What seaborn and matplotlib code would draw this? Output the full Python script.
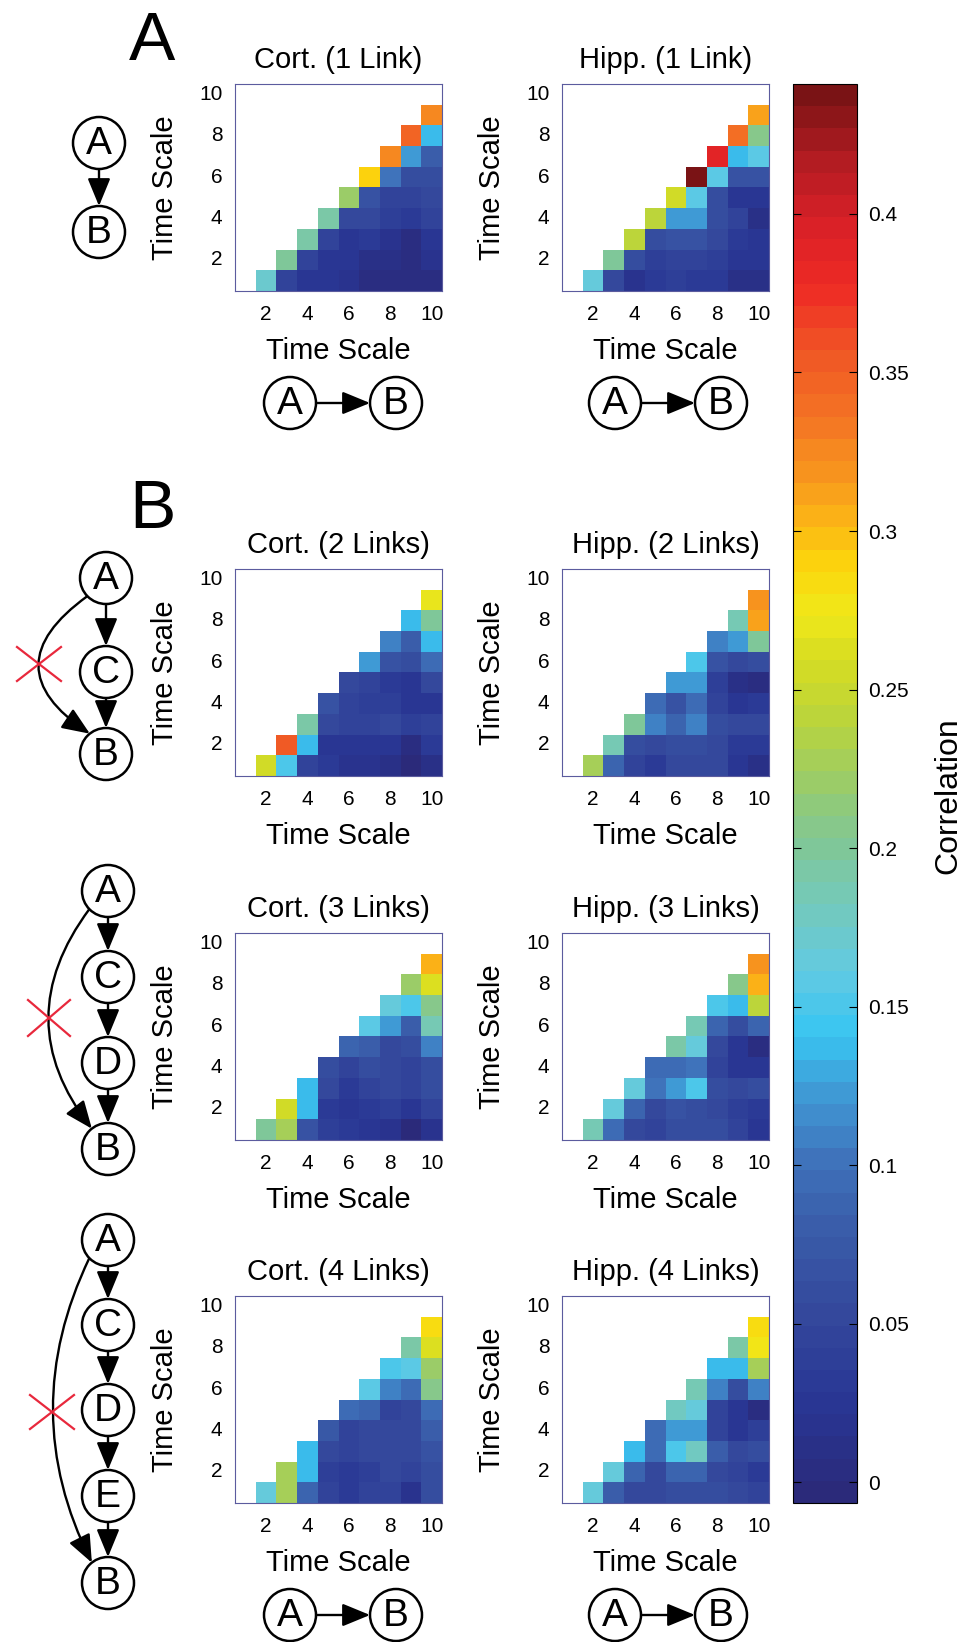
import numpy as np
import pandas as pd
import seaborn as sns
import matplotlib.pyplot as plt
from matplotlib.colors import LinearSegmentedColormap, ListedColormap
from matplotlib.patches import Circle, FancyArrowPatch

# ---------- data: row k holds time scale y = k+1, columns x = y+1 .. 10 ----------
cort_1 = [
    [0.17, 0.045, 0.025, 0.025, 0.015, 0.005, 0.005, 0.003, 0.004],
    [0.20, 0.045, 0.025, 0.025, 0.012, 0.012, 0.004, 0.018],
    [0.19, 0.045, 0.028, 0.030, 0.018, 0.003, 0.022],
    [0.19, 0.055, 0.050, 0.040, 0.032, 0.048],
    [0.22, 0.070, 0.045, 0.047, 0.055],
    [0.29, 0.100, 0.062, 0.058],
    [0.325, 0.120, 0.078],
    [0.345, 0.135],
    [0.325],
]
hipp_1 = [
    [0.165, 0.055, 0.020, 0.030, 0.042, 0.030, 0.032, 0.008, 0.008],
    [0.20, 0.058, 0.042, 0.048, 0.046, 0.040, 0.025, 0.025],
    [0.24, 0.062, 0.064, 0.064, 0.052, 0.032, 0.022],
    [0.24, 0.120, 0.120, 0.063, 0.043, 0.010],
    [0.255, 0.160, 0.063, 0.027, 0.022],
    [0.44, 0.160, 0.065, 0.065],
    [0.39, 0.140, 0.160],
    [0.34, 0.205],
    [0.315],
]
cort_2 = [
    [0.255, 0.150, 0.045, 0.030, 0.018, 0.020, 0.012, 0.000, 0.008],
    [0.355, 0.135, 0.022, 0.027, 0.027, 0.025, 0.006, 0.035],
    [0.19, 0.055, 0.045, 0.047, 0.055, 0.042, 0.045],
    [0.070, 0.045, 0.042, 0.040, 0.022, 0.022],
    [0.055, 0.047, 0.030, 0.022, 0.055],
    [0.125, 0.070, 0.060, 0.092],
    [0.108, 0.080, 0.140],
    [0.140, 0.200],
    [0.270],
]
hipp_2 = [
    [0.23, 0.090, 0.045, 0.032, 0.050, 0.055, 0.050, 0.022, 0.012],
    [0.185, 0.062, 0.055, 0.062, 0.063, 0.053, 0.035, 0.035],
    [0.20, 0.108, 0.085, 0.110, 0.058, 0.050, 0.050],
    [0.098, 0.065, 0.098, 0.047, 0.022, 0.035],
    [0.125, 0.125, 0.042, 0.013, 0.003],
    [0.150, 0.070, 0.052, 0.058],
    [0.108, 0.120, 0.200],
    [0.185, 0.315],
    [0.322],
]
cort_3 = [
    [0.20, 0.228, 0.068, 0.040, 0.030, 0.027, 0.018, 0.000, 0.018],
    [0.255, 0.140, 0.035, 0.027, 0.033, 0.040, 0.025, 0.047],
    [0.140, 0.050, 0.032, 0.045, 0.055, 0.045, 0.060],
    [0.058, 0.045, 0.058, 0.056, 0.047, 0.062],
    [0.090, 0.078, 0.055, 0.058, 0.108],
    [0.160, 0.120, 0.080, 0.185],
    [0.168, 0.150, 0.205],
    [0.22, 0.265],
    [0.305],
]
hipp_3 = [
    [0.185, 0.098, 0.052, 0.045, 0.058, 0.058, 0.058, 0.045, 0.024],
    [0.168, 0.090, 0.050, 0.068, 0.062, 0.052, 0.042, 0.035],
    [0.168, 0.105, 0.120, 0.150, 0.062, 0.052, 0.058],
    [0.098, 0.098, 0.105, 0.045, 0.025, 0.025],
    [0.19, 0.168, 0.052, 0.025, 0.002],
    [0.185, 0.090, 0.062, 0.085],
    [0.150, 0.140, 0.240],
    [0.21, 0.305],
    [0.322],
]
cort_4 = [
    [0.168, 0.228, 0.090, 0.045, 0.032, 0.045, 0.045, 0.018, 0.058],
    [0.228, 0.135, 0.042, 0.035, 0.040, 0.052, 0.048, 0.062],
    [0.140, 0.052, 0.045, 0.055, 0.053, 0.055, 0.068],
    [0.072, 0.045, 0.055, 0.053, 0.055, 0.078],
    [0.098, 0.088, 0.047, 0.055, 0.098],
    [0.160, 0.108, 0.098, 0.205],
    [0.150, 0.160, 0.22],
    [0.19, 0.265],
    [0.285],
]
hipp_4 = [
    [0.168, 0.078, 0.055, 0.055, 0.058, 0.062, 0.058, 0.052, 0.047],
    [0.162, 0.088, 0.055, 0.088, 0.088, 0.055, 0.045, 0.035],
    [0.140, 0.095, 0.150, 0.180, 0.080, 0.055, 0.058],
    [0.098, 0.120, 0.125, 0.047, 0.025, 0.040],
    [0.180, 0.168, 0.047, 0.025, 0.002],
    [0.185, 0.108, 0.062, 0.108],
    [0.140, 0.140, 0.228],
    [0.19, 0.275],
    [0.285],
]

panels = [cort_1, hipp_1, cort_2, hipp_2, cort_3, hipp_3, cort_4, hipp_4]
titles = ["Cort. (1 Link)", "Hipp. (1 Link)", "Cort. (2 Links)", "Hipp. (2 Links)",
          "Cort. (3 Links)", "Hipp. (3 Links)", "Cort. (4 Links)", "Hipp. (4 Links)"]
scales = list(range(1, 11))
tick_vals = [2, 4, 6, 8, 10]
cbar_ticks = [0, 0.05, 0.1, 0.15, 0.2, 0.25, 0.3, 0.35, 0.4]
cbar_labels = ["0", "0.05", "0.1", "0.15", "0.2", "0.25", "0.3", "0.35", "0.4"]
VMIN, VMAX = -0.0066, 0.441

# colour map (64 steps)
anchors = [(-0.0066, "#2b2a7a"), (0.02, "#283593"), (0.05, "#34489c"), (0.08, "#3a5fab"),
           (0.10, "#3f74bc"), (0.12, "#4096d3"), (0.14, "#38c5f2"), (0.16, "#62cae2"),
           (0.18, "#73c9bd"), (0.20, "#80c797"), (0.22, "#98cb6c"), (0.24, "#b8d43e"),
           (0.26, "#d6dc22"), (0.275, "#f0e81a"), (0.29, "#fcd60c"), (0.305, "#fbb317"),
           (0.32, "#f7931e"), (0.34, "#f37224"), (0.36, "#f05525"), (0.38, "#ee2a25"),
           (0.40, "#d92027"), (0.42, "#b31c22"), (0.441, "#7a1315")]
pos = [(v - VMIN) / (VMAX - VMIN) for v, _ in anchors]
base = LinearSegmentedColormap.from_list("corr", list(zip(pos, [c for _, c in anchors])))
cmap = ListedColormap(base(np.linspace(0, 1, 64)))


def to_frame(rows):
    m = np.full((10, 10), np.nan)
    for k, row in enumerate(rows):
        y = k + 1
        for j, v in enumerate(row):
            m[10 - y, y + j] = v
    return pd.DataFrame(m, index=scales[::-1], columns=scales)


plt.rcParams["font.family"] = ["Liberation Sans", "DejaVu Sans"]
W, H = 976, 1642
fig = plt.figure(figsize=(W / 100, H / 100), dpi=100)

# overlay in pixel coordinates for diagrams and letters
ov = fig.add_axes([0, 0, 1, 1], zorder=-1)
ov.set_xlim(0, W)
ov.set_ylim(H, 0)
ov.axis("off")

lefts = [235, 562]
tops = [84, 569, 933, 1296]
SIDE = 207
mesh = None
for i, (rows, title) in enumerate(zip(panels, titles)):
    left = lefts[i % 2]
    top = tops[i // 2]
    ax = fig.add_axes([left / W, 1 - (top + SIDE) / H, SIDE / W, SIDE / H])
    sns.heatmap(to_frame(rows), ax=ax, cmap=cmap, vmin=VMIN, vmax=VMAX, cbar=False)
    mesh = ax.collections[0]
    ax.set_xticks([t - 0.5 for t in tick_vals])
    ax.set_xticklabels([str(t) for t in tick_vals], rotation=0)
    ax.set_yticks([10 - t + 0.5 for t in tick_vals])
    ax.set_yticklabels([str(t) for t in tick_vals], rotation=0)
    ax.tick_params(length=0, labelsize=15)
    ax.tick_params(axis="x", pad=10)
    ax.tick_params(axis="y", pad=9)
    for s in ax.spines.values():
        s.set_visible(True)
        s.set_color("#5b5b9e")
        s.set_linewidth(0.8)
    ax.set_title(title, fontsize=21, pad=11.5)
    ax.set_xlabel("Time Scale", fontsize=21)
    ax.set_ylabel("Time Scale", fontsize=21)
    ax.xaxis.set_label_coords(0.5, -0.22)
    ax.yaxis.set_label_coords(-0.27, 0.5)

# colour bar
cax = fig.add_axes([793 / W, 1 - 1503 / H, 64 / W, (1503 - 84) / H])
cb = fig.colorbar(mesh, cax=cax)
cb.set_ticks(cbar_ticks)
cb.set_ticklabels(cbar_labels)
cax.tick_params(direction="in", left=True, right=True, length=6, width=0.8,
                labelsize=15, pad=8)
cb.outline.set_linewidth(0.8)
fig.text(948 / W, 1 - 796 / H, "Correlation", rotation=90, ha="center", va="center",
         fontsize=23)

# panel letters
fig.text(152 / W, 1 - 42 / H, "A", ha="center", va="center", fontsize=50)
fig.text(152 / W, 1 - 510 / H, "B", ha="center", va="center", fontsize=50)

R = 26


def node(x, y, letter):
    ov.add_patch(Circle((x, y), R, fc="white", ec="black", lw=1.8, zorder=3))
    ov.text(x, y + 1, letter, ha="center", va="center", fontsize=28, zorder=4)


def arrow(p, q, rad=0.0):
    ov.add_patch(FancyArrowPatch(p, q, arrowstyle="-|>,head_length=1.7,head_width=0.7",
                                 mutation_scale=10, connectionstyle=f"arc3,rad={rad}",
                                 lw=1.7, color="black", shrinkA=0, shrinkB=0, zorder=2))


def cross(x, y, dx=22, dy=17):
    ov.plot([x - dx, x + dx], [y - dy, y + dy], color="#e8283c", lw=1.6, zorder=5)
    ov.plot([x - dx, x + dx], [y + dy, y - dy], color="#e8283c", lw=1.6, zorder=5)


def chain(x, ys, letters):
    for y, l in zip(ys, letters):
        node(x, y, l)
    for y0, y1 in zip(ys[:-1], ys[1:]):
        arrow((x, y0 + R), (x, y1 - R))


def bypass(x, y0, y1, rad):
    p = (x - 0.72 * R, y0 + 0.7 * R)
    q = (x - 0.62 * R, y1 - 0.78 * R)
    arrow(p, q, rad)


# panel A: vertical and horizontal one-link diagrams
chain(99, [143, 232], ["A", "B"])
for ax_x, ay in [(290, 403), (615, 403), (290, 1615), (615, 1615)]:
    node(ax_x, ay, "A")
    node(ax_x + 106, ay, "B")
    arrow((ax_x + R, ay), (ax_x + 106 - R, ay))

# panel B: chains with a removed direct link
chain(106, [578, 672, 754], ["A", "C", "B"])
bypass(106, 578, 754, 0.72)
cross(39, 664)

chain(108, [891, 977, 1063, 1149], ["A", "C", "D", "B"])
bypass(108, 891, 1149, 0.38)
cross(49, 1018, 21, 18)

chain(108, [1240, 1325, 1410, 1496, 1583], ["A", "C", "D", "E", "B"])
bypass(108, 1240, 1583, 0.245)
cross(52, 1412)

fig.savefig("out.png", dpi=100)
